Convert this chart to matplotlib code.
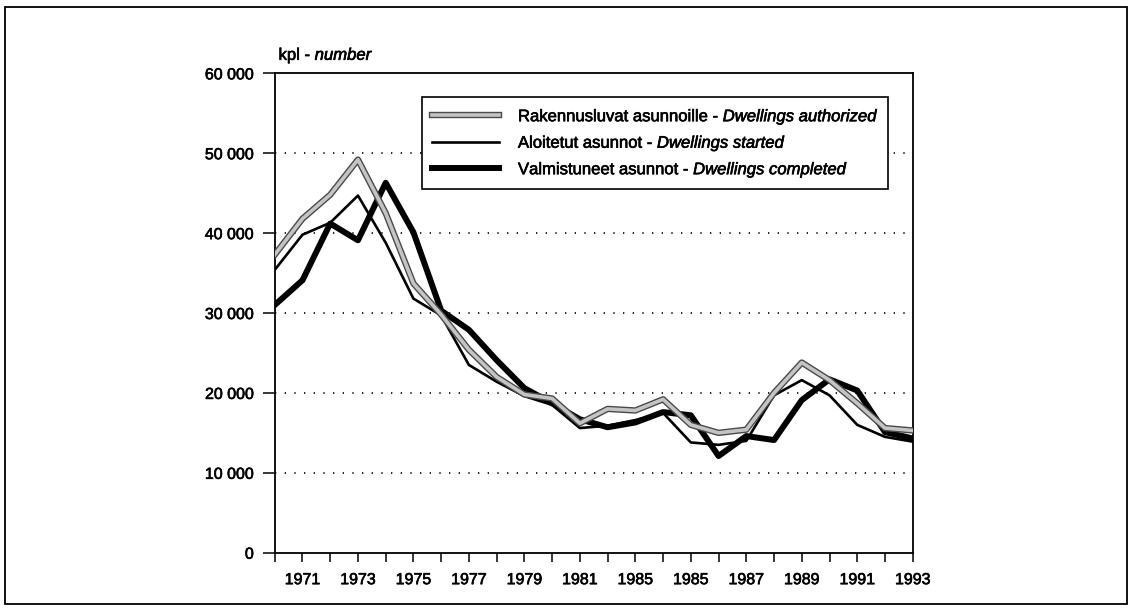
import matplotlib
matplotlib.use("Agg")
import matplotlib.pyplot as plt
import matplotlib.patheffects as pe
from matplotlib.patches import Rectangle
from matplotlib.ticker import FuncFormatter

plt.rcParams['font.family'] = ['Liberation Sans', 'DejaVu Sans']
plt.rcParams['mathtext.fontset'] = 'custom'
plt.rcParams['mathtext.rm'] = 'Liberation Sans'
plt.rcParams['mathtext.it'] = 'Liberation Sans:italic'

years = list(range(1970, 1994))
authorized = [37300, 41800, 44800, 49200, 42500, 33700, 29800, 25400, 22000, 19800,
              19300, 16200, 18000, 17800, 19200, 16000, 15000, 15400, 20000, 23800,
              21600, 18700, 15600, 15300]
started = [35400, 39800, 41300, 44700, 38800, 31800, 29700, 23500, 21400, 19600,
           18500, 15600, 15900, 16600, 17500, 13800, 13500, 14000, 19700, 21600,
           19700, 16000, 14500, 13900]
completed = [31000, 34100, 41200, 39100, 46300, 40100, 30300, 27900, 24100, 20600,
             18700, 16700, 15700, 16300, 17600, 17200, 12100, 14600, 14100, 19100,
             21700, 20300, 15100, 14300]

tick_years = list(range(1971, 1994, 2))
tick_labels = ['1971', '1973', '1975', '1977', '1979', '1981', '1985', '1985',
               '1987', '1989', '1991', '1993']

labels = [r'Rakennusluvat asunnoille - $\mathit{Dwellings\ authorized}$',
          r'Aloitetut asunnot - $\mathit{Dwellings\ started}$',
          r'Valmistuneet asunnot - $\mathit{Dwellings\ completed}$']

# slightly heavier text, like the scanned print
ink = [pe.withStroke(linewidth=0.45, foreground='black')]

fig = plt.figure(figsize=(11.32, 6.11), dpi=100)
ax = fig.add_axes([0.2427, 0.0954, 0.5636, 0.7846])

# page frame
fig.patches.append(Rectangle((5 / 1132, 1 - 604 / 611), 1122 / 1132, 597 / 611,
                             transform=fig.transFigure, fill=False,
                             edgecolor='black', linewidth=1.3))

l3, = ax.plot(years, completed, color='black', lw=4.3, zorder=3)
l2, = ax.plot(years, started, color='black', lw=1.9, zorder=4)
l1, = ax.plot(years, authorized, color='#c4c4c4', lw=2.6, zorder=5,
              path_effects=[pe.Stroke(linewidth=4.6, foreground='#4a4a4a'), pe.Normal()])

for v in range(10000, 60000, 10000):
    ax.axhline(v, color='black', lw=1.2, linestyle=(0, (0.8, 5)), zorder=1)

ax.set_xlim(1970, 1993)
ax.set_ylim(0, 60000)
ax.set_xticks(years, minor=True)
ax.set_xticks(tick_years)
ax.set_xticklabels(tick_labels)
ax.set_yticks(range(0, 60001, 10000))
ax.yaxis.set_major_formatter(FuncFormatter(lambda v, p: f'{int(v):,}'.replace(',', ' ')))

ax.tick_params(axis='x', which='both', direction='out', length=6.5, width=1.1, pad=7.5,
               labelsize=11.5)
ax.tick_params(axis='y', direction='out', length=8.6, width=1.1, pad=6.5, labelsize=11.5)
for s in ax.spines.values():
    s.set_linewidth(1.3)
for t in ax.get_xticklabels() + ax.get_yticklabels():
    t.set_path_effects(ink)

ax.text(0.006, 1.028, r'kpl - $\mathit{number}$', transform=ax.transAxes,
        fontsize=12, va='baseline', ha='left', path_effects=ink)

leg = ax.legend([l1, l2, l3], labels, loc='upper right', bbox_to_anchor=(0.9613, 0.95),
                borderaxespad=0, fancybox=False, edgecolor='black', framealpha=1,
                fontsize=12, handlelength=4.0, handletextpad=1.15, labelspacing=0.45,
                borderpad=0.6)
leg.get_frame().set_linewidth(1.2)
leg.set_zorder(10)
for t in leg.get_texts():
    t.set_path_effects(ink)

fig.savefig('out.png', dpi=100)
